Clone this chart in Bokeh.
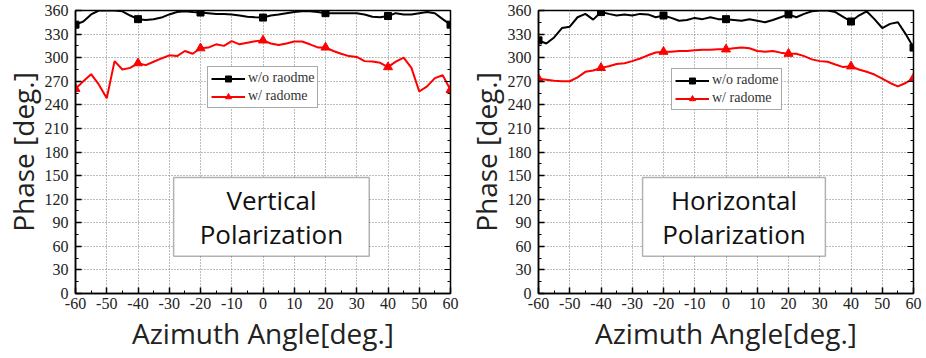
from bokeh.plotting import figure
from bokeh.models import (FixedTicker, LinearAxis, BoxAnnotation, Label, Legend,
                          LegendItem, Range1d, PrintfTickFormatter)
from bokeh.layouts import row
from bokeh.embed import file_html
from bokeh.resources import INLINE

# ---------------- data ----------------
angle = [-60, -57.5, -55, -52.5, -50, -47.5, -45, -42.5, -40, -37.5, -35, -32.5,
         -30, -27.5, -25, -22.5, -20, -17.5, -15, -12.5, -10, -7.5, -5, -2.5,
         0, 2.5, 5, 7.5, 10, 12.5, 15, 17.5, 20, 22.5, 25, 27.5, 30, 32.5, 35,
         37.5, 40, 42.5, 45, 47.5, 50, 52.5, 55, 57.5, 60]

# Vertical polarization
vert_wo = [342, 346, 355, 360, 360, 360, 359, 353.6, 349, 348, 349, 351, 355, 358,
           359, 358, 357.4, 356.6, 355.7, 355.7, 355, 353.6, 352, 351.4, 351, 353.6,
           355, 356.6, 358, 359, 359, 358, 356.6, 356.6, 356.6, 356.6, 356.6, 355,
           352, 351.4, 353, 356.6, 355, 355, 356.6, 358, 356.6, 349, 342]
vert_w = [260.4, 270, 279, 265.6, 248.4, 295.6, 285, 287, 293, 290.5, 294.8, 299,
          303, 302, 308.5, 305, 312, 312.8, 317, 315, 321, 317, 319, 321, 322, 318,
          316, 318, 320.5, 320.5, 317, 313, 313, 308.5, 305, 302, 301, 295.6, 295,
          293.5, 288, 295, 300, 287, 257, 263.4, 274, 277.6, 259]

# Horizontal polarization
hor_wo = [322, 318, 325.7, 337.7, 339.4, 351.4, 355.7, 348.4, 358, 355.7, 353.6, 355,
          353.6, 355.7, 355, 351.4, 353.6, 350.6, 347, 348, 350.6, 349, 351.4, 349,
          349, 348, 347, 349, 347, 345, 348, 351.4, 355, 351.4, 355.7, 359, 360, 360,
          358, 352, 346, 353.6, 359, 349, 337.7, 343, 345, 330, 312.8]
hor_w = [273.3, 272, 270.7, 270, 270, 275, 282, 283.6, 287, 289, 292, 293, 295.6,
         299, 303, 306.5, 307.6, 307.6, 308.5, 308.5, 309.4, 310, 310.2, 310.6,
         310.6, 312, 312.8, 312, 308.5, 307.6, 308.5, 306.4, 305, 305, 302, 297.8,
         295.6, 294.8, 291.3, 288, 289, 285, 282, 278.5, 273.3, 267.8, 263.4, 267.8, 274]

marker_angles = [-60, -40, -20, 0, 20, 40, 60]
x_ticks = [-60, -50, -40, -30, -20, -10, 0, 10, 20, 30, 40, 50, 60]
y_ticks = [0, 30, 60, 90, 120, 150, 180, 210, 240, 270, 300, 330, 360]
x_minor = [-55, -45, -35, -25, -15, -5, 5, 15, 25, 35, 45, 55]
y_minor = [15, 45, 75, 105, 135, 165, 195, 225, 255, 285, 315, 345]

vert_labels = ["w/o raodme", "w/ radome"]
hor_labels = ["w/o radome", "w/ radome"]

SERIF = "'Liberation Serif', 'Times New Roman', Times, serif"
SANS = "'Open Sans'"
H = 358


def panel(black, red, labels, title, width, b_left, b_right, leg_loc, box):
    p = figure(width=width, height=H, x_range=Range1d(-60, 60), y_range=Range1d(0, 360),
               output_backend="svg", toolbar_location=None,
               min_border_left=b_left, min_border_right=b_right,
               min_border_top=10, min_border_bottom=65)
    p.background_fill_color = "white"
    p.border_fill_color = "white"
    p.outline_line_color = "black"
    p.outline_line_width = 1.5

    xt = FixedTicker(ticks=x_ticks, minor_ticks=x_minor)
    yt = FixedTicker(ticks=y_ticks, minor_ticks=y_minor)
    p.xaxis.ticker = xt
    p.yaxis.ticker = yt
    p.xaxis.formatter = PrintfTickFormatter(format="%d")
    p.yaxis.formatter = PrintfTickFormatter(format="%d")
    p.xgrid.ticker = xt
    p.ygrid.ticker = yt
    for g in (p.xgrid, p.ygrid):
        g.grid_line_color = "#7a7a7a"
        g.grid_line_dash = "1 2"
        g.grid_line_width = 1

    for ax in (p.xaxis, p.yaxis):
        ax.axis_line_color = "black"
        ax.axis_line_width = 1.5
        ax.major_tick_in = 6
        ax.major_tick_out = 0
        ax.minor_tick_in = 3
        ax.minor_tick_out = 0
        ax.major_tick_line_color = "black"
        ax.minor_tick_line_color = "black"
        ax.major_tick_line_width = 1.5
        ax.major_label_text_font = SERIF
        ax.major_label_text_font_size = "16px"
        ax.major_label_text_color = "#222222"
        ax.axis_label_text_font = SANS
        ax.axis_label_text_font_size = "28px"
        ax.axis_label_text_font_style = "normal"
        ax.axis_label_text_color = "#222222"
    p.xaxis.axis_label = "Azimuth Angle[deg.]"
    p.yaxis.axis_label = "Phase [deg.]"
    p.xaxis.major_label_standoff = 4
    p.xaxis.axis_label_standoff = 2
    p.yaxis.major_label_standoff = 7
    p.yaxis.axis_label_standoff = 0

    # tick marks on the right frame edge, without labels
    rax = LinearAxis(ticker=yt, major_tick_in=6, major_tick_out=0,
                     minor_tick_in=3, minor_tick_out=0, axis_line_color="black",
                     major_label_standoff=0,
                     major_label_overrides={t: "" for t in y_ticks})
    p.add_layout(rax, "right")

    mx = [a for a in angle if a in marker_angles]
    mb = [v for a, v in zip(angle, black) if a in marker_angles]
    mr = [v for a, v in zip(angle, red) if a in marker_angles]

    lb = p.line(angle, black, line_color="black", line_width=2)
    sb = p.scatter(mx, mb, marker="square", size=7, color="black")
    lr = p.line(angle, red, line_color="#ff0000", line_width=2)
    sr = p.scatter(mx, mr, marker="triangle", size=9, color="#ff0000")

    legend = Legend(items=[LegendItem(label=labels[0], renderers=[lb, sb]),
                           LegendItem(label=labels[1], renderers=[lr, sr])],
                    location=leg_loc)
    legend.border_line_color = "#555555"
    legend.border_line_width = 1.5
    legend.background_fill_color = "white"
    legend.background_fill_alpha = 1
    legend.padding = 3
    legend.spacing = 2
    legend.margin = 0
    legend.label_text_font = SERIF
    legend.label_text_font_size = "14px"
    legend.label_text_color = "#333333"
    legend.glyph_width = 34
    legend.glyph_height = 15
    legend.label_height = 15
    legend.label_standoff = 3
    p.add_layout(legend)

    left, right, bottom, top = box
    p.add_layout(BoxAnnotation(left=left, right=right, bottom=bottom, top=top,
                               fill_color="white", fill_alpha=1,
                               line_color="black", line_width=1.5))
    p.add_layout(Label(x=(left + right) / 2, y=(bottom + top) / 2, text=title,
                       text_align="center", text_baseline="middle",
                       text_font=SANS, text_font_size="26px", text_color="#111111",
                       text_line_height=0.93))
    return p


p1 = panel(vert_wo, vert_w, vert_labels, "Vertical\nPolarization", 463, 71, 13,
           (132, 185), (-28.6, 34.0, 47.5, 147.5))
p2 = panel(hor_wo, hor_w, hor_labels, "Horizontal\nPolarization", 463, 73, 13,
           (133, 183), (-26.7, 31.8, 47.5, 147.5))

layout = row(p1, p2)
open("out.html", "w").write(file_html(layout, INLINE))
